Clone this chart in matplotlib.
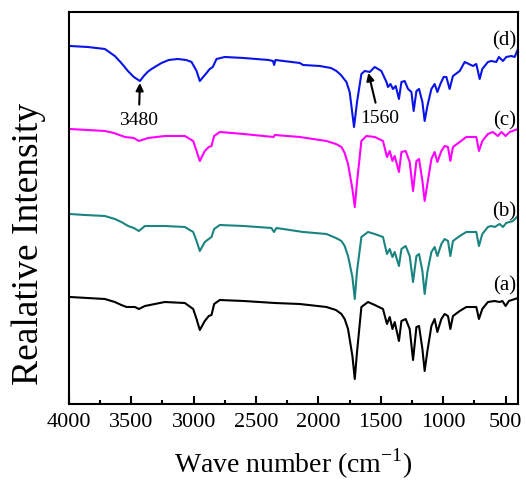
import matplotlib.pyplot as plt
from matplotlib.ticker import MultipleLocator

plt.rcParams['font.family'] = ['Liberation Serif', 'DejaVu Serif']

# spectra (wave number, relative intensity)
wn_d = [3992, 3850, 3712, 3632, 3580, 3527, 3480, 3431, 3400, 3370, 3338, 3258, 3200, 3127,
        3060, 3017, 2977, 2951, 2897, 2871, 2847, 2817, 2751, 2600, 2400, 2365, 2355, 2345,
        2150, 2123, 1990, 1900, 1856, 1820, 1776, 1750, 1736, 1715, 1691, 1656,
        1629, 1589, 1549, 1496, 1455, 1443, 1423, 1403, 1381, 1355, 1335, 1309, 1282, 1255,
        1237, 1215, 1194, 1167, 1149, 1127, 1095, 1069, 1047, 1023, 997, 975, 949, 922, 868,
        828, 762, 735, 708, 687, 642, 615, 575, 554, 522, 495, 454, 428, 401]
int_d = [358, 357, 355, 348, 341, 333, 327, 323, 328, 332, 335, 341, 344, 345,
         344, 342, 333, 323, 331, 335, 337, 345, 347, 346, 344, 343, 339, 344,
         341, 339, 338, 336, 333, 329, 322, 312, 298, 277, 302, 330,
         333, 332, 337, 333, 322, 317, 320, 315, 318, 305, 322, 323, 315, 312,
         293, 313, 315, 302, 283, 298, 315, 320, 312, 320, 327, 327, 315, 328, 333,
         342, 338, 340, 325, 335, 342, 343, 342, 347, 343, 347, 348, 347, 355]

wn_c = [3992, 3712, 3640, 3551, 3480, 3439, 3365, 3231, 3071, 3004, 2977, 2951, 2911, 2879,
        2857, 2836, 2791, 2600, 2360, 2350, 2150, 1936, 1860, 1816, 1790, 1763, 1728, 1709,
        1691, 1656, 1616, 1549, 1483, 1451, 1429, 1407, 1389, 1355, 1335, 1301, 1269, 1242,
        1215, 1194, 1167, 1149, 1127, 1095, 1069, 1047, 1015, 989, 962, 943, 922, 868, 815,
        735, 714, 687, 642, 602, 562, 534, 500, 468, 401]
int_c = [275, 273, 271, 267, 266, 263, 266, 268, 268, 263, 253, 243, 253, 257,
         258, 268, 272, 270, 267, 269, 267, 263, 260, 257, 251, 240, 215, 197,
         222, 263, 268, 267, 263, 247, 253, 243, 248, 232, 252, 253, 242, 213,
         243, 245, 223, 203, 220, 245, 252, 242, 253, 258, 257, 243, 257, 262, 267,
         267, 253, 263, 270, 272, 268, 272, 268, 272, 275]

wn_b = [3992, 3872, 3712, 3632, 3580, 3525, 3480, 3439, 3391, 3231, 3071, 3004, 2977, 2951,
        2911, 2879, 2857, 2836, 2791, 2600, 2377, 2356, 2337, 2123, 1936, 1860, 1816, 1790,
        1763, 1728, 1709, 1691, 1656, 1603, 1549, 1483, 1451, 1429, 1407, 1389, 1355, 1335,
        1301, 1269, 1242, 1215, 1194, 1167, 1149, 1127, 1095, 1069, 1047, 1015, 989, 962,
        943, 922, 868, 815, 735, 714, 687, 642, 615, 588, 548, 522, 495, 442, 401]
int_b = [190, 189, 188, 185, 182, 178, 176, 173, 178, 178, 177, 172, 163, 153,
         162, 165, 167, 175, 179, 178, 176, 172, 176, 172, 170, 166, 163, 158,
         148, 127, 105, 133, 167, 172, 170, 167, 150, 155, 147, 152, 138, 155,
         158, 148, 122, 148, 150, 133, 110, 132, 152, 157, 148, 160, 165, 163,
         148, 163, 168, 172, 172, 158, 170, 177, 178, 177, 180, 177, 181, 183, 188]

wn_a = [3992, 3712, 3632, 3580, 3538, 3471, 3439, 3391, 3231, 3071, 3004, 2977, 2951, 2911,
        2879, 2857, 2836, 2791, 2600, 2350, 2150, 1936, 1860, 1816, 1790, 1763, 1728, 1709,
        1691, 1656, 1603, 1549, 1483, 1451, 1429, 1407, 1389, 1355, 1335, 1301, 1269, 1242,
        1215, 1194, 1167, 1149, 1127, 1095, 1069, 1047, 1015, 989, 962, 943, 922, 868, 815,
        735, 714, 687, 642, 588, 548, 526, 500, 474, 401]
int_a = [107, 105, 102, 99, 97, 97, 95, 98, 102, 101, 95, 85, 74, 83,
         88, 89, 100, 104, 103, 101, 100, 97, 94, 90, 85, 75, 48, 25,
         52, 97, 102, 99, 95, 80, 87, 75, 82, 63, 83, 85, 75, 44,
         77, 78, 55, 33, 53, 78, 85, 72, 85, 90, 88, 75, 88, 93, 97,
         97, 85, 95, 102, 103, 102, 103, 98, 103, 106]

names = ['(a)', '(b)', '(c)', '(d)']
label_y = [119, 193, 284, 364]

fig = plt.figure(figsize=(5.26, 4.81), dpi=100)
ax = fig.add_axes([0.131, 0.158, 0.854, 0.815])

ax.plot(wn_a, int_a, color='black', lw=1.5)
ax.plot(wn_b, int_b, color='#1a8580', lw=1.5)
ax.plot(wn_c, int_c, color='#ff00ff', lw=1.5)
ax.plot(wn_d, int_d, color='#0a14e6', lw=1.5)

for n, yy in zip(names, label_y):
    ax.text(412, yy, n, ha='right', va='center', fontsize=15)

arrow = dict(arrowstyle='-|>', color='black', lw=1.5, mutation_scale=11, shrinkA=3, shrinkB=0)
ax.annotate('3480', xy=(3431, 321), xytext=(3440, 284), ha='center', va='center',
            fontsize=14, arrowprops=arrow)
ax.annotate('1560', xy=(1600, 331), xytext=(1513, 286), ha='center', va='center',
            fontsize=14, arrowprops=arrow)

ax.set_xlim(4000, 400)
ax.set_ylim(0, 392)
ax.xaxis.set_major_locator(MultipleLocator(500))
ax.xaxis.set_minor_locator(MultipleLocator(250))
ax.tick_params(axis='x', which='major', direction='in', length=6, width=1.5,
               labelsize=16, top=False, pad=6)
ax.tick_params(axis='x', which='minor', direction='in', length=3, width=1.5, top=False)
ax.set_yticks([])
for s in ax.spines.values():
    s.set_linewidth(1.5)

ax.set_xlabel(r'Wave number (cm$^{\mathregular{-1}}$)', fontsize=20, labelpad=10)
ax.set_ylabel('Realative Intensity', fontsize=27)
ax.yaxis.set_label_coords(-0.05, 0.41)

fig.savefig('out.png', dpi=100)
